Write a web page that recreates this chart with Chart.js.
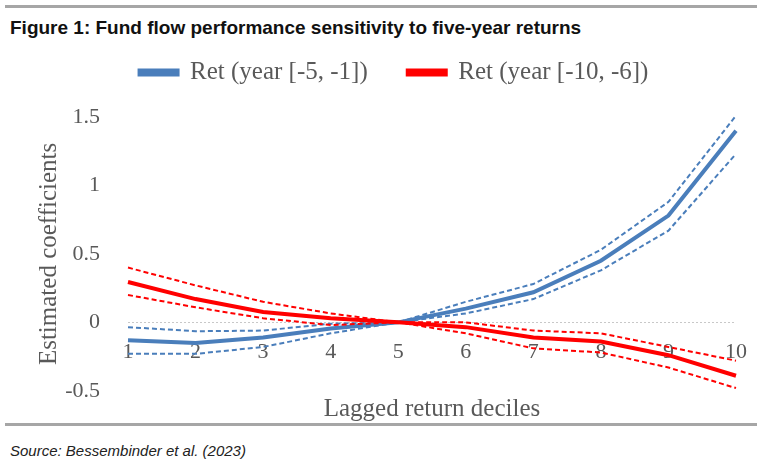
<!DOCTYPE html>
<html>
<head>
<meta charset="utf-8">
<script src="https://cdn.jsdelivr.net/npm/chart.js@4"></script>
<style>
  body { margin: 0; background: #fff; width: 764px; height: 467px; position: relative; overflow: hidden; }
  .rule { position: absolute; left: 5px; width: 752px; height: 3px; background: #a6a6a6; }
  #title { position: absolute; left: 10px; top: 17px; font: bold 19px "Liberation Sans", Arial, sans-serif; color: #111; }
  #source { position: absolute; left: 10px; top: 442px; font: italic 15px "Liberation Sans", Arial, sans-serif; color: #222; }
  #wrap { position: absolute; left: 0; top: 20px; width: 764px; height: 412px; }
</style>
</head>
<body>
<div class="rule" style="top:5px"></div>
<div id="title">Figure 1: Fund flow performance sensitivity to five-year returns</div>
<div class="rule" style="top:423px"></div>
<div id="source">Source: Bessembinder et al. (2023)</div>
<div id="wrap"><canvas id="chart"></canvas></div>
<script>
// deciles
var deciles = ['1', '2', '3', '4', '5', '6', '7', '8', '9', '10'];

// Ret (year [-5, -1]) with bands
var recent = [-0.13, -0.15, -0.11, -0.045, 0, 0.10, 0.22, 0.45, 0.78, 1.40];
var recentHi = [-0.035, -0.065, -0.06, -0.01, 0, 0.15, 0.28, 0.53, 0.88, 1.51];
var recentLo = [-0.23, -0.23, -0.18, -0.08, 0, 0.065, 0.17, 0.38, 0.67, 1.23];

// Ret (year [-10, -6]) with bands
var older = [0.295, 0.17, 0.075, 0.03, 0, -0.035, -0.11, -0.14, -0.24, -0.39];
var olderHi = [0.40, 0.27, 0.15, 0.065, 0, 0.0, -0.06, -0.08, -0.18, -0.28];
var olderLo = [0.20, 0.11, 0.03, -0.02, 0, -0.08, -0.19, -0.22, -0.33, -0.48];

var yTicks = [-0.5, 0, 0.5, 1, 1.5];

var blue = '#4a7ebb';
var red = '#ff0000';
var grey = '#595959';
var serif = '"Liberation Serif", "Times New Roman", serif';

function mainLine(label, data, color, order) {
  return { label: label, data: data, borderColor: color, backgroundColor: color,
    borderWidth: 4, pointRadius: 0, tension: 0, order: order, clip: false };
}
function band(data, color, order) {
  return { label: '', data: data, borderColor: color, backgroundColor: color,
    borderWidth: 2, borderDash: [5, 3], pointRadius: 0, tension: 0, order: order, clip: false };
}

// legend: a bit more room below it, and nudged right like the original
var legendTweak = {
  id: 'legendTweak',
  afterInit: function (chart) {
    var lg = chart.legend;
    var fit = lg.fit;
    lg.fit = function () { fit.call(this); this.height += 22; };
  },
  afterLayout: function (chart) { chart.legend.left += 50; }
};

var ctx = document.getElementById('chart').getContext('2d');
var chart = new Chart(ctx, {
  type: 'line',
  data: {
    labels: deciles,
    datasets: [
      mainLine('Ret (year [-5, -1])', recent, blue, 2),
      mainLine('Ret (year [-10, -6])', older, red, 0),
      band(recentHi, blue, 3),
      band(recentLo, blue, 3),
      band(olderHi, red, 1),
      band(olderLo, red, 1)
    ]
  },
  plugins: [legendTweak],
  options: {
    responsive: true,
    maintainAspectRatio: false,
    animation: false,
    layout: { padding: { left: 0, right: 26, top: 0, bottom: 0 } },
    plugins: {
      tooltip: { enabled: false },
      legend: {
        position: 'top',
        labels: {
          filter: function (item) { return item.datasetIndex < 2; },
          sort: function (a, b) { return a.datasetIndex - b.datasetIndex; },
          boxWidth: 38, boxHeight: 4,
          color: grey,
          font: { family: serif, size: 25 },
          padding: 40
        }
      }
    },
    scales: {
      x: {
        position: { y: 0 },
        offset: false,
        grid: { display: false, drawTicks: false },
        border: { display: false },
        ticks: { color: grey, font: { family: serif, size: 22 }, padding: 17, maxRotation: 0 },
        afterFit: function (s) { s.height = 0; }
      },
      x2: {
        position: 'bottom',
        labels: deciles,
        type: 'category',
        grid: { display: false, drawTicks: false },
        border: { display: false },
        ticks: { display: false },
        title: { display: true, text: 'Lagged return deciles', color: grey, font: { family: serif, size: 25 }, padding: { top: 4, bottom: 0 } },
        afterFit: function (s) { s.height = 34; }
      },
      y: {
        min: -0.5, max: 1.5,
        afterBuildTicks: function (s) { s.ticks = yTicks.map(function (v) { return { value: v }; }); },
        grid: {
          drawTicks: false,
          color: function (c) { return c.tick && c.tick.value === 0 ? '#c8c8c8' : 'rgba(0,0,0,0)'; }
        },
        border: { display: false, dash: [2, 2] },
        ticks: {
          color: grey, font: { family: serif, size: 22 }, padding: 28,
          callback: function (v) { return String(v); }
        },
        title: { display: true, text: 'Estimated coefficients', color: grey, font: { family: serif, size: 25 }, padding: { top: 34, bottom: 0 } },
        afterFit: function (s) { s.width = 128; }
      }
    }
  }
});
</script>
</body>
</html>
